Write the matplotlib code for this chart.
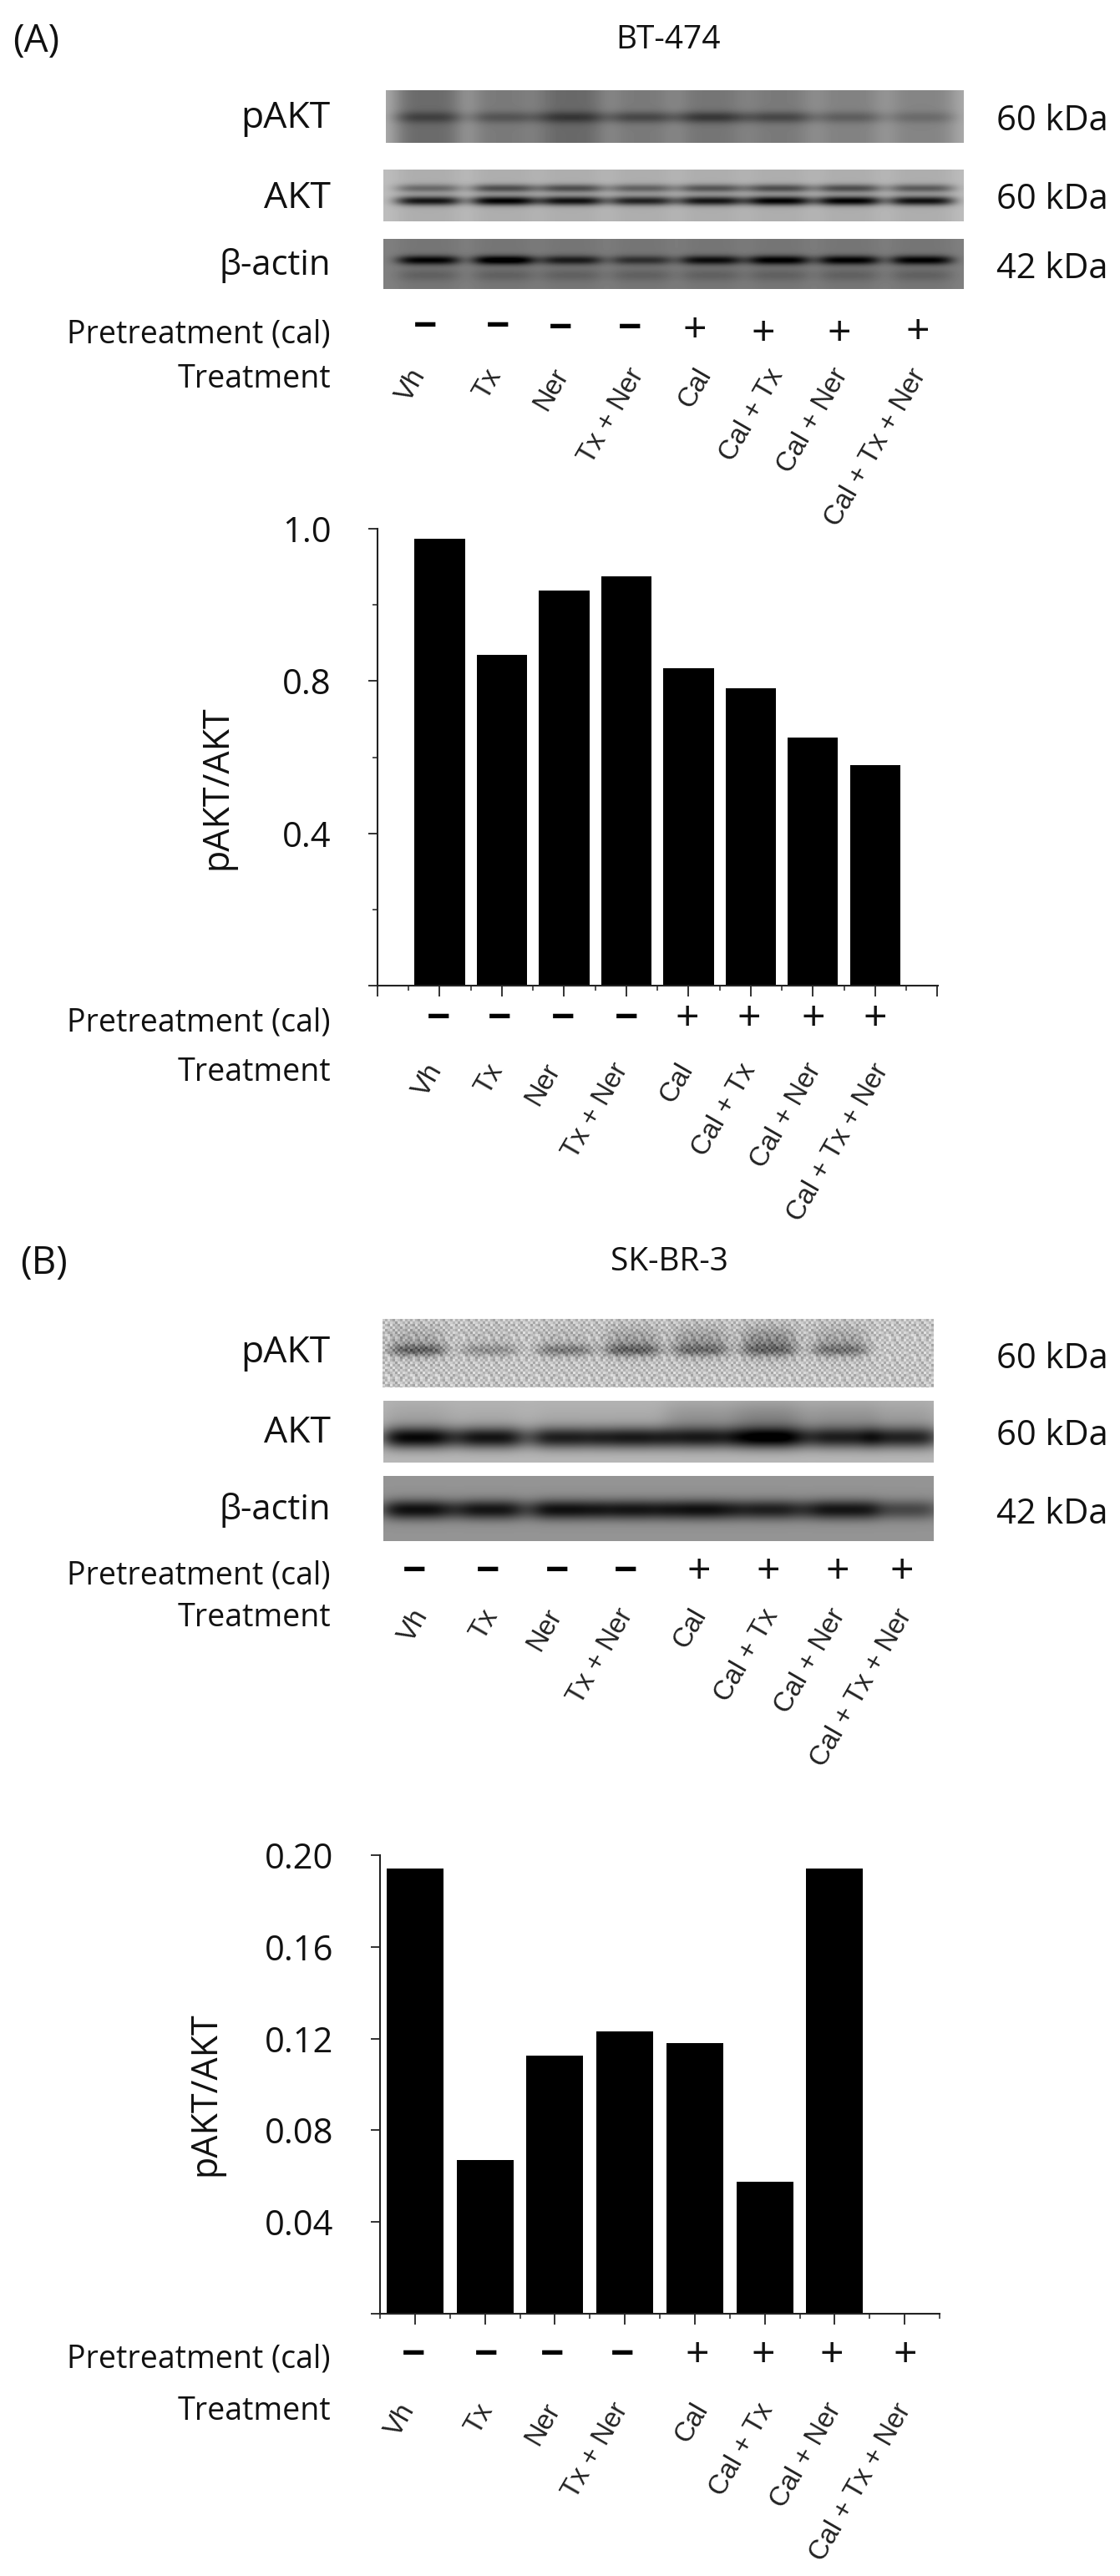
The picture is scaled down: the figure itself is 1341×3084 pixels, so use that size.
import numpy as np
import matplotlib
matplotlib.use('Agg')
import matplotlib.pyplot as plt

plt.rcParams['font.family'] = ['Open Sans', 'DejaVu Sans']

W = 1341
H = 3084

treatments = ['Vh', 'Tx', 'Ner', 'Tx + Ner', 'Cal', 'Cal + Tx', 'Cal + Ner', 'Cal + Tx + Ner']
pretreatment = ['−', '−', '−', '−', '+', '+', '+', '+']

# panel A axis is not even (0.4, 0.8, 1.0 evenly spaced)
bt474_values = [0.987, 0.834, 0.919, 0.9375, 0.817, 0.782, 0.652, 0.58]
skbr3_values = [0.194, 0.0672, 0.1125, 0.123, 0.118, 0.0574, 0.1943, 0.0]

bt474_ticks = [0, 0.4, 0.8, 1.0]
bt474_ticklabels = ['', '0.4', '0.8', '1.0']
bt474_minor = [0.2, 0.6, 0.9]
skbr3_ticks = [0, 0.04, 0.08, 0.12, 0.16, 0.20]
skbr3_ticklabels = ['', '0.04', '0.08', '0.12', '0.16', '0.20']

# band darkness per lane, by eye
a_pakt_band = [0.17, 0.15, 0.2, 0.2, 0.24, 0.2, 0.14, 0.1]
a_pakt_lane = [0.26, 0.2, 0.27, 0.2, 0.22, 0.2, 0.17, 0.16]
a_akt_upper = [0.27, 0.38, 0.38, 0.3, 0.35, 0.38, 0.38, 0.33]
a_akt_lower = [0.6, 0.68, 0.62, 0.55, 0.6, 0.68, 0.68, 0.62]
a_actin_band = [0.46, 0.52, 0.36, 0.28, 0.42, 0.48, 0.47, 0.47]
b_pakt_band = [0.3, 0.17, 0.24, 0.27, 0.22, 0.2, 0.22, 0.0]
b_pakt_smear = [0.12, 0.04, 0.06, 0.16, 0.18, 0.24, 0.14, 0.0]
b_akt_band = [0.66, 0.62, 0.58, 0.6, 0.56, 0.68, 0.54, 0.54]
b_akt_smear = [0.08, 0.05, 0.05, 0.05, 0.14, 0.2, 0.14, 0.1]
b_actin_band = [0.52, 0.5, 0.52, 0.5, 0.52, 0.46, 0.5, 0.3]

speckle = np.array([
    [3, -4, 6, -2, -7, 5, 1, -5, 7, -3],
    [-6, 7, -1, 4, 2, -8, 6, 3, -2, 5],
    [5, -3, -7, 8, -4, 1, -6, 7, 4, -8],
    [-2, 6, 3, -5, 7, -3, 2, -7, 5, 1],
    [8, -7, 1, 5, -6, 6, -4, 3, -1, -5],
    [-4, 2, -6, -1, 4, -7, 8, -2, 6, 3],
    [1, 7, 4, -8, 3, 2, -5, 5, -7, -1],
    [-5, -2, 8, 2, -3, 7, 4, -8, 1, 6],
]) / 100.0


def lane_mask(xs, centers, halfw):
    return [np.exp(-((xs - c) / halfw) ** 4) for c in centers]


def blot(ax, box, centers, halfw, gap, lane=None, rows=(), smear=None, tex=False):
    x0, x1, y0, y1 = box
    xs = np.arange(x0, x1)
    ys = np.arange(y0, y1)
    img = np.full((len(ys), len(xs)), float(gap))
    masks = lane_mask(xs, centers, halfw)
    for i, m in enumerate(masks):
        if lane is not None:
            img -= lane[i] * m[None, :]
        for yc, sig, amp in rows:
            img -= amp[i] * np.exp(-((ys - yc) / sig) ** 2)[:, None] * m[None, :]
        if smear is not None:
            yc, sig, amp = smear
            img -= amp[i] * np.exp(-((ys - yc) / sig) ** 2)[:, None] * m[None, :]
    if tex:
        big = np.kron(np.tile(speckle, (len(ys) // 24 + 1, len(xs) // 30 + 1)), np.ones((3, 3)))
        img += 1.6 * big[:len(ys), :len(xs)]
    ax.imshow(np.clip(img, 0, 1), cmap='gray', vmin=0, vmax=1, aspect='auto',
              extent=(x0, x1, y1, y0), interpolation='bilinear', zorder=1)


def px_axes(x0, x1, y0, y1):
    return fig.add_axes([x0 / W, 1 - y1 / H, (x1 - x0) / W, (y1 - y0) / H], facecolor='none')


def sign_row(xs, ys):
    for s, x, y in zip(pretreatment, xs, ys):
        if s == '+':
            page.text(x, y, s, fontsize=36, ha='center', va='center', color='#111111')
        else:
            page.text(x, y, s, fontsize=36, fontweight='bold', ha='center', va='center', color='black')


def treat_row(xs, top):
    for t, x in zip(treatments, xs):
        page.text(x, top, t, family='Liberation Sans', fontsize=23.5, rotation=60,
                  ha='right', va='top', color='#222222')


def left_labels(names, ys, sizes):
    for n, y, fs in zip(names, ys, sizes):
        page.text(396, y + 4, n, fontsize=fs, ha='right', va='center', color='#111111')


def kda_labels(ys):
    for lab, y in zip(['60 kDa', '60 kDa', '42 kDa'], ys):
        page.text(1193, y + 4, lab, fontsize=30, ha='left', va='center', color='#111111')


def bars(ax, values):
    ax.bar(range(8), values, width=0.81, color='black', zorder=2)
    for s in ['top', 'right']:
        ax.spines[s].set_visible(False)
    for s in ['left', 'bottom']:
        ax.spines[s].set_linewidth(1.5)
        ax.spines[s].set_color('#222222')


fig = plt.figure(figsize=(W / 100, H / 100), dpi=100, facecolor='white')
page = fig.add_axes([0, 0, 1, 1])

a_centers = [513, 603, 684, 768, 851, 932, 1016, 1103]
b_centers = [500, 586, 676, 757, 838, 920, 1005, 1082]
blot_sizes = [32, 32, 30, 27, 27]
row_sizes = [27, 27]

# ---- panel A blots
blot(page, (462, 1154, 108, 171), a_centers, 42, 0.68, lane=a_pakt_lane,
     rows=[(140, 7, a_pakt_band)])
blot(page, (459, 1154, 203, 265), a_centers, 40, 0.74, lane=[0.06] * 8,
     rows=[(225, 5, a_akt_upper), (240, 5.5, a_akt_lower)])
blot(page, (459, 1154, 286, 346), a_centers, 38, 0.5, lane=[0.04] * 8,
     rows=[(311, 5.5, a_actin_band), (329, 7, [0.08] * 8)])

# ---- panel B blots
blot(page, (458, 1118, 1579, 1661), b_centers, 34, 0.76, rows=[(1616, 7, b_pakt_band)],
     smear=(1606, 18, b_pakt_smear), tex=True)
blot(page, (459, 1118, 1677, 1751), b_centers, 44, 0.72, rows=[(1721, 13, b_akt_band)],
     smear=(1700, 24, b_akt_smear))
blot(page, (459, 1118, 1767, 1845), b_centers, 44, 0.58, rows=[(1807, 12, b_actin_band)])

page.set_xlim(0, W)
page.set_ylim(H, 0)
page.axis('off')

# ---- text, panel A
page.text(15, 50, '(A)', fontsize=33, ha='left', va='center', color='#111111')
page.text(800, 48, 'BT-474', fontsize=28, ha='center', va='center', color='#111111')
left_labels(['pAKT', 'AKT', 'β-actin', 'Pretreatment (cal)', 'Treatment'],
            [138, 234, 314, 396, 450], blot_sizes)
kda_labels([141, 235, 318])
sign_row([509, 596, 671, 754, 832, 914, 1005, 1099], [393, 393, 395, 395, 397, 401, 401, 399])
treat_row([516, 606, 687, 777, 858, 944, 1021, 1115], 436)

left_labels(['Pretreatment (cal)', 'Treatment'], [1221, 1280], row_sizes)
sign_row([525, 598, 674, 750, 823, 897, 974, 1048], [1221] * 8)
treat_row([536, 608, 677, 758, 836, 911, 989, 1070], 1268)

# ---- text, panel B
page.text(24, 1513, '(B)', fontsize=33, ha='left', va='center', color='#111111')
page.text(801, 1511, 'SK-BR-3', fontsize=28, ha='center', va='center', color='#111111')
left_labels(['pAKT', 'AKT', 'β-actin', 'Pretreatment (cal)', 'Treatment'],
            [1616, 1712, 1804, 1882, 1933], blot_sizes)
kda_labels([1623, 1715, 1809])
sign_row([496, 584, 667, 749, 837, 920, 1003, 1080], [1883] * 8)
treat_row([519, 602, 679, 764, 852, 938, 1018, 1098], 1921)

left_labels(['Pretreatment (cal)', 'Treatment'], [2821, 2883], row_sizes)
sign_row([495, 582, 661, 745, 835, 914, 996, 1084], [2821] * 8)
treat_row([503, 596, 677, 758, 854, 932, 1013, 1097], 2872)

page.text(260, 943, 'pAKT/AKT', fontsize=31, rotation=90, ha='center', va='center', color='#111111')
page.text(246, 2507, 'pAKT/AKT', fontsize=31, rotation=90, ha='center', va='center', color='#111111')

# ---- panel A chart, labelled values sit evenly so the y scale is piecewise
ax_a = px_axes(452, 1123, 633, 1180)
scale_vals = [0, 0.4, 0.8, 1.0]
scale_pos = [0, 1, 2, 3]
ax_a.set_yscale('function', functions=(lambda v: np.interp(v, scale_vals, scale_pos),
                                       lambda p: np.interp(p, scale_pos, scale_vals)))
bars(ax_a, bt474_values)
ax_a.set_xlim(-1, 8.01)
ax_a.set_ylim(0, 1.0)
ax_a.set_xticks(range(-1, 9))
ax_a.set_xticklabels([])
ax_a.set_xticks(np.arange(-0.5, 8, 1), minor=True)
ax_a.set_yticks(bt474_ticks)
ax_a.set_yticklabels(bt474_ticklabels, fontsize=30, color='#111111')
ax_a.set_yticks(bt474_minor, minor=True)
ax_a.tick_params(axis='y', which='minor', labelleft=False)

# ---- panel B chart
ax_b = px_axes(455, 1125, 2221, 2770)
bars(ax_b, skbr3_values)
ax_b.set_xlim(-0.5, 7.5)
ax_b.set_ylim(0, 0.2)
ax_b.set_xticks(range(8))
ax_b.set_xticklabels([])
ax_b.set_xticks(np.arange(-0.5, 8, 1), minor=True)
ax_b.set_yticks(skbr3_ticks)
ax_b.set_yticklabels(skbr3_ticklabels, fontsize=30, color='#111111')
ax_b.yaxis.set_tick_params(which='minor', left=False)

for ax in [ax_a, ax_b]:
    ax.tick_params(axis='x', which='major', length=9, width=1.3, color='#222222')
    ax.tick_params(axis='x', which='minor', length=4, width=1.1, color='#222222')
    ax.tick_params(axis='y', which='major', length=8, width=1.3, color='#222222', pad=32)
    ax.tick_params(axis='y', which='minor', length=4, width=1.1, color='#222222')

fig.savefig('out.png', dpi=100)
